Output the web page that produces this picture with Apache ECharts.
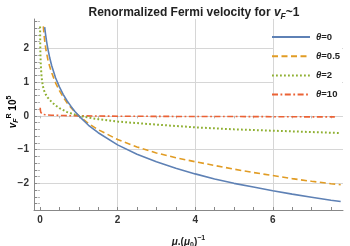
<!DOCTYPE html>
<html><head><meta charset="utf-8">
<script src="https://cdn.jsdelivr.net/npm/echarts@6/dist/echarts.min.js"></script>
<style>html,body{margin:0;padding:0;background:#fff}#c{width:350px;height:246px}</style>
</head><body><div id="c"></div>
<script>
// ---- data ----
const seriesNames = ['θ=0', 'θ=0.5', 'θ=2', 'θ=10'];
const legendValues = ['0', '0.5', '2', '10'];

const muBlue = [0.12,0.14,0.17,0.2,0.25,0.3,0.4,0.5,0.6,0.7,0.8,0.9,1.0,1.25,1.5,2,2.5,3,3.5,4,4.5,5,5.5,6,6.5,7,7.5,7.75];
const vBlue  = [2.63,2.44,2.2,2.0,1.72,1.49,1.13,0.86,0.63,0.44,0.28,0.13,0.0,-0.28,-0.50,-0.86,-1.14,-1.36,-1.55,-1.72,-1.87,-2.0,-2.11,-2.22,-2.32,-2.41,-2.50,-2.54];

const muOrange = [0.085,0.1,0.12,0.15,0.2,0.25,0.3,0.4,0.5,0.6,0.7,0.8,0.9,1.0,1.25,1.5,2,2.5,3,3.5,4,4.5,5,5.5,6,6.5,7,7.5,7.75];
const vOrange  = [2.65,2.45,2.23,1.98,1.68,1.46,1.28,0.98,0.75,0.55,0.38,0.24,0.11,0.0,-0.23,-0.41,-0.70,-0.92,-1.1,-1.24,-1.36,-1.47,-1.58,-1.68,-1.77,-1.86,-1.94,-2.01,-2.04];

const muGreen = [0.002,0.005,0.01,0.02,0.04,0.07,0.1,0.15,0.2,0.3,0.4,0.5,0.7,1.0,1.5,2,3,4,5,6,7,7.75];
const vGreen  = [2.65,2.2,1.85,1.5,1.15,0.9,0.76,0.63,0.54,0.41,0.31,0.23,0.11,0.0,-0.1,-0.17,-0.26,-0.34,-0.40,-0.44,-0.48,-0.51];

const muRed = [0.005,0.01,0.02,0.04,0.08,0.15,0.3,0.6,1,2,3,4,5,6,7,7.6];
const vRed  = [0.24,0.17,0.1,0.06,0.04,0.03,0.02,0.01,0.0,-0.01,-0.015,-0.02,-0.02,-0.025,-0.03,-0.03];

const xMajorTicks = [0, 2, 4, 6];
const xMinorTicks = [0.5,1,1.5,2.5,3,3.5,4.5,5,5.5,6.5,7,7.5];
const xGridValues = [2, 4, 6];
const yMajorTicks = [-2, -1, 0, 1, 2];
const yMinorTicks = [-2.6,-2.4,-2.2,-1.8,-1.6,-1.4,-1.2,-0.8,-0.6,-0.4,-0.2,0.2,0.4,0.6,0.8,1.2,1.4,1.6,1.8,2.2,2.4,2.6,2.8];

// ---- chart ----
const colors = ['#5E81B5', '#E19C24', '#8FB032', '#EB6235'];
const dashes = ['solid', [6, 3.5], [1.8, 2.2], [6, 2.5, 1.8, 2.5]];
const widths = [1.6, 1.6, 2, 1.6];
const xs = [muBlue, muOrange, muGreen, muRed];
const ys = [vBlue, vOrange, vGreen, vRed];

const FONT = 'Liberation Sans, Arial, sans-serif';
const axisColor = '#888';
const frameTickColor = '#b8b8b8';
const gridColor = '#d6d6d6';
const xMin = -0.155, xMax = 7.81, yMin = -2.79, yMax = 2.87;
const minus = v => String(v).replace('-', '\u2212');
const sortNum = a => a.slice().sort((p, q) => p - q);
const xAllTicks = sortNum(xMajorTicks.concat(xMinorTicks));
const yAllTicks = sortNum(yMajorTicks.concat(yMinorTicks));

const series = seriesNames.map((n, i) => ({
  name: n, type: 'line', showSymbol: false, symbol: 'none',
  data: xs[i].map((x, k) => [x, ys[i][k]]),
  lineStyle: { color: colors[i], width: widths[i], type: dashes[i] },
  itemStyle: { color: colors[i] },
  xAxisIndex: 0, yAxisIndex: 0, silent: true, animation: false, z: 3 + (3 - i)
}));

const baseX = { type: 'value', min: xMin, max: xMax, position: 'bottom', gridIndex: 0 };
const baseY = { type: 'value', min: yMin, max: yMax, position: 'left', gridIndex: 0 };
const B = (o) => Object.assign({ fontFamily: FONT, fontWeight: 'bold', color: '#222' }, o);

const option = {
  animation: false,
  color: colors,
  title: {
    text: '{a|Renormalized Fermi velocity for }{v|v}{s|F}{a|~1}',
    left: 189, top: 0, textAlign: 'center',
    textStyle: {
      rich: {
        a: B({ fontSize: 12, lineHeight: 16 }),
        v: B({ fontSize: 12, fontStyle: 'italic', lineHeight: 16 }),
        s: B({ fontSize: 8.5, fontStyle: 'italic', lineHeight: 8, verticalAlign: 'bottom' })
      }
    }
  },
  grid: { left: 34, right: 7, top: 19, bottom: 36, containLabel: false, outerBoundsMode: 'none' },
  legend: {
    orient: 'vertical', left: 271, top: 32, padding: 0,
    itemWidth: 38, itemHeight: 12, itemGap: 9.2,
    data: seriesNames,
    itemStyle: { opacity: 0 },
    formatter: name => '{t|θ}{n|=' + legendValues[seriesNames.indexOf(name)] + '}',
    textStyle: {
      padding: [0, 0, 0, 1],
      rich: {
        t: B({ fontSize: 9.5, fontStyle: 'italic' }),
        n: B({ fontSize: 9.5 })
      }
    }
  },
  graphic: [
    { type: 'rect', z: 1, silent: true, shape: { x: 274, y: 29, width: 68, height: 74 }, style: { fill: '#fff' } },
    {
      type: 'text', z: 10, silent: true, x: 13, y: 112, rotation: Math.PI / 2,
      style: {
        text: '{v|v}{s|F}{p|R}{a| 10}{p|5}',
        align: 'center', verticalAlign: 'middle',
        rich: {
          v: B({ fontSize: 10, fontStyle: 'italic', lineHeight: 14 }),
          a: B({ fontSize: 10, lineHeight: 14 }),
          s: B({ fontSize: 7, fontStyle: 'italic', lineHeight: 7, verticalAlign: 'bottom' }),
          p: B({ fontSize: 7, lineHeight: 7, verticalAlign: 'top' })
        }
      }
    }
  ],
  xAxis: [
    Object.assign({}, baseX, {
      name: '{m|μ}{a|.(}{m|μ}{s|0}{a|)}{p|\u22121}',
      nameLocation: 'middle', nameGap: 25,
      nameTextStyle: { rich: {
        m: B({ fontSize: 10, fontStyle: 'italic', lineHeight: 14 }),
        a: B({ fontSize: 10, lineHeight: 14 }),
        s: B({ fontSize: 7, lineHeight: 7, verticalAlign: 'bottom' }),
        p: B({ fontSize: 7, lineHeight: 7, verticalAlign: 'top' })
      } },
      axisLine: { show: true, onZero: false, lineStyle: { color: axisColor, width: 1 } },
      axisTick: { show: true, inside: true, length: 3, customValues: xAllTicks, lineStyle: { color: axisColor } },
      axisLabel: { show: true, customValues: xMajorTicks, margin: 5, fontFamily: FONT, fontSize: 10, fontWeight: 'bold', color: '#333', formatter: minus },
      splitLine: { show: false }
    }),
    Object.assign({}, baseX, {
      axisLine: { show: false },
      axisTick: { show: false, customValues: xGridValues },
      axisLabel: { show: false },
      splitLine: { show: true, lineStyle: { color: gridColor, width: 1 } }
    }),
    Object.assign({}, baseX, {
      position: 'top',
      axisLine: { show: false },
      axisTick: { show: true, inside: true, length: 2.5, customValues: xAllTicks, lineStyle: { color: frameTickColor } },
      axisLabel: { show: false }, splitLine: { show: false }
    })
  ],
  yAxis: [
    Object.assign({}, baseY, {
      axisLine: { show: true, onZero: false, lineStyle: { color: axisColor, width: 1 } },
      axisTick: { show: true, inside: true, length: 3, customValues: yAllTicks, lineStyle: { color: axisColor } },
      axisLabel: { show: true, customValues: yMajorTicks, margin: 5, fontFamily: FONT, fontSize: 10, fontWeight: 'bold', color: '#333', formatter: minus },
      splitLine: { show: false }
    }),
    Object.assign({}, baseY, {
      axisLine: { show: false },
      axisTick: { show: false, customValues: yMajorTicks },
      axisLabel: { show: false },
      splitLine: { show: true, lineStyle: { color: gridColor, width: 1 } }
    }),
    Object.assign({}, baseY, {
      position: 'right',
      axisLine: { show: false },
      axisTick: { show: true, inside: true, length: 2.5, customValues: yAllTicks, lineStyle: { color: frameTickColor } },
      axisLabel: { show: false }, splitLine: { show: false }
    })
  ],
  series: series
};

const chart = echarts.init(document.getElementById('c'), null, { renderer: 'canvas' });
chart.setOption(option);
</script></body></html>
